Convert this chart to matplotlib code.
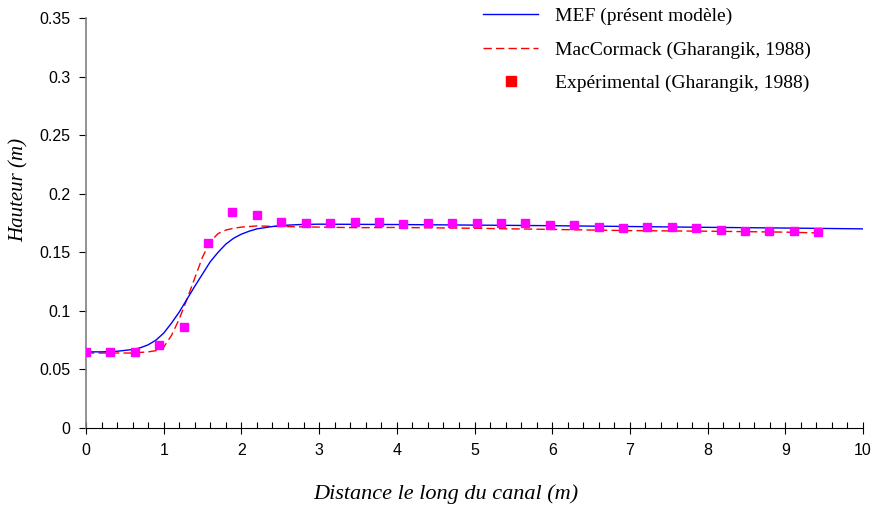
import matplotlib
matplotlib.use("Agg")
import matplotlib.pyplot as plt
from matplotlib.lines import Line2D
from matplotlib.ticker import MultipleLocator, FuncFormatter

# Data
exp_x = [0.0, 0.314, 0.628, 0.942, 1.257, 1.571, 1.885, 2.199, 2.513, 2.827,
         3.142, 3.456, 3.770, 4.084, 4.398, 4.712, 5.027, 5.341, 5.655, 5.969,
         6.283, 6.597, 6.912, 7.226, 7.540, 7.854, 8.168, 8.482, 8.796, 9.111, 9.425]
exp_y = [0.065, 0.065, 0.065, 0.071, 0.086, 0.158, 0.184, 0.182, 0.176, 0.175,
         0.175, 0.176, 0.176, 0.174, 0.175, 0.175, 0.175, 0.175, 0.175, 0.173,
         0.173, 0.172, 0.171, 0.172, 0.172, 0.171, 0.169, 0.168, 0.168, 0.168, 0.167]

mef_x = [0, 0.2, 0.4, 0.6, 0.7, 0.8, 0.9, 1.0, 1.1, 1.2, 1.3, 1.4, 1.5, 1.6, 1.7,
         1.8, 1.9, 2.0, 2.1, 2.2, 2.4, 2.6, 2.8, 3.0, 4, 5, 6, 7, 8, 9, 10]
mef_y = [0.065, 0.065, 0.0655, 0.067, 0.0685, 0.071, 0.075, 0.081, 0.0895, 0.099,
         0.110, 0.121, 0.1315, 0.142, 0.150, 0.157, 0.162, 0.1655, 0.168, 0.170,
         0.172, 0.1732, 0.1738, 0.174, 0.1737, 0.1732, 0.1727, 0.172, 0.1713, 0.1707, 0.170]

mac_x = [0, 0.3, 0.6, 0.8, 0.9, 1.0, 1.1, 1.2, 1.3, 1.4, 1.5, 1.6, 1.7, 1.8, 1.9,
         2.0, 2.2, 2.5, 3.0, 3.5, 4, 5, 6, 7, 8, 9, 9.45]
mac_y = [0.064, 0.064, 0.064, 0.065, 0.066, 0.069, 0.079, 0.093, 0.110, 0.128,
         0.146, 0.159, 0.166, 0.169, 0.1705, 0.1715, 0.1725, 0.172, 0.1715, 0.171,
         0.1712, 0.1705, 0.1695, 0.1685, 0.168, 0.1672, 0.1665]

labels = ["MEF (présent modèle)", "MacCormack (Gharangik, 1988)",
          "Expérimental (Gharangik, 1988)"]
xlabel = "Distance le long du canal (m)"
ylabel = "Hauteur (m)"

serif = ["Liberation Serif", "DejaVu Serif"]
narrow = ["Liberation Sans Narrow", "Liberation Sans", "DejaVu Sans"]

fig = plt.figure(figsize=(8.75, 5.05), dpi=100)
ax = fig.add_axes([86/875, 1 - 428/505, (863-86)/875, (428-18)/505])

dash = (0, (6, 3))
ax.plot(mef_x, mef_y, color="#0000FF", lw=1.0, zorder=3)
ax.plot(mac_x, mac_y, color="#FF0000", lw=1.0, ls=dash, zorder=2)
ax.plot(exp_x, exp_y, ls="none", marker="s", ms=6, color="#FF00FF",
        mec="#FF00FF", zorder=4)

ax.set_xlim(0, 10)
ax.set_ylim(0, 0.35)
ax.xaxis.set_major_locator(MultipleLocator(1))
ax.xaxis.set_minor_locator(MultipleLocator(0.2))
ax.yaxis.set_major_locator(MultipleLocator(0.05))
ax.yaxis.set_major_formatter(FuncFormatter(lambda v, p: f"{v:.2f}".rstrip("0").rstrip(".") if v else "0"))
ax.tick_params(axis="x", which="major", direction="inout", length=8, width=0.8, pad=7)
ax.tick_params(axis="x", which="minor", direction="in", length=4, width=0.8)
ax.tick_params(axis="y", which="major", direction="out", length=5, width=0.8, pad=6)
for lab in ax.get_xticklabels() + ax.get_yticklabels():
    lab.set_family(narrow)
    lab.set_fontsize(11.5)

for s in ["top", "right"]:
    ax.spines[s].set_visible(False)
ax.spines["left"].set_color("#808080")
ax.spines["left"].set_linewidth(1.2)
ax.spines["bottom"].set_linewidth(0.8)

ax.set_xlabel(xlabel, fontsize=16, style="italic", family=serif)
ax.set_ylabel(ylabel, fontsize=15, style="italic", family=serif)
ax.xaxis.set_label_coords((446 - 86) / 777, -(484 - 428) / 410)
ax.yaxis.set_label_coords((29 - 86) / 777, (428 - 190) / 410)

handles = [Line2D([], [], color="#0000FF", lw=1.0),
           Line2D([], [], color="#FF0000", lw=1.0, ls=dash),
           Line2D([], [], ls="none", marker="s", ms=7, color="#FF0000")]
leg = ax.legend(handles, labels, loc="upper left",
                bbox_to_anchor=(483/875, 1 - 7.5/505),
                bbox_transform=fig.transFigure, frameon=False, handlelength=2.83,
                handletextpad=0.87, labelspacing=0.81, borderpad=0.0,
                borderaxespad=0.0, prop={"family": serif, "size": 14})

fig.savefig("out.png", dpi=100)
